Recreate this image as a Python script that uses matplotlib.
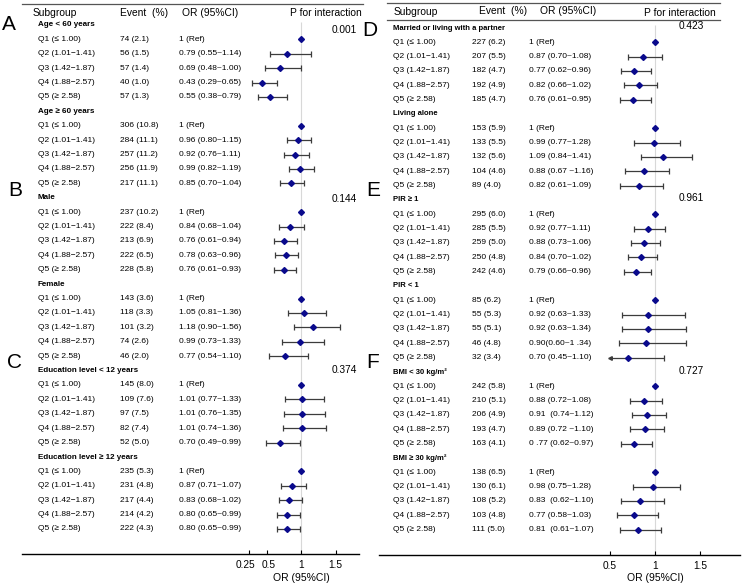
import matplotlib
matplotlib.use("Agg")
import matplotlib.pyplot as plt
import matplotlib.transforms as mtransforms
from matplotlib.lines import Line2D
import numpy as np

plt.rcParams['font.family'] = ['Liberation Sans', 'DejaVu Sans']

# ---------------- DATA ----------------
quintiles = ["Q1 (≤ 1.00)", "Q2 (1.01−1.41)", "Q3 (1.42−1.87)", "Q4 (1.88−2.57)", "Q5 (≥ 2.58)"]

left_groups = ["Age < 60 years", "Age ≥ 60 years", "Male", "Female",
               "Education level < 12 years", "Education level ≥ 12 years"]
left_events = [
    ["74 (2.1)", "56 (1.5)", "57 (1.4)", "40 (1.0)", "57 (1.3)"],
    ["306 (10.8)", "284 (11.1)", "257 (11.2)", "256 (11.9)", "217 (11.1)"],
    ["237 (10.2)", "222 (8.4)", "213 (6.9)", "222 (6.5)", "228 (5.8)"],
    ["143 (3.6)", "118 (3.3)", "101 (3.2)", "74 (2.6)", "46 (2.0)"],
    ["145 (8.0)", "109 (7.6)", "97 (7.5)", "82 (7.4)", "52 (5.0)"],
    ["235 (5.3)", "231 (4.8)", "217 (4.4)", "214 (4.2)", "222 (4.3)"],
]
left_or = [
    [1, 0.79, 0.69, 0.43, 0.55],
    [1, 0.96, 0.92, 0.99, 0.85],
    [1, 0.84, 0.76, 0.78, 0.76],
    [1, 1.05, 1.18, 0.99, 0.77],
    [1, 1.01, 1.01, 1.01, 0.70],
    [1, 0.87, 0.83, 0.80, 0.80],
]
left_lo = [
    [1, 0.55, 0.48, 0.29, 0.38],
    [1, 0.80, 0.76, 0.82, 0.70],
    [1, 0.68, 0.61, 0.63, 0.61],
    [1, 0.81, 0.90, 0.73, 0.54],
    [1, 0.77, 0.76, 0.74, 0.49],
    [1, 0.71, 0.68, 0.65, 0.65],
]
left_hi = [
    [1, 1.14, 1.00, 0.65, 0.79],
    [1, 1.15, 1.11, 1.19, 1.04],
    [1, 1.04, 0.94, 0.96, 0.93],
    [1, 1.36, 1.56, 1.33, 1.10],
    [1, 1.33, 1.35, 1.36, 0.99],
    [1, 1.07, 1.02, 0.99, 0.99],
]
left_or_text = [
    ["1 (Ref)", "0.79 (0.55~1.14)", "0.69 (0.48~1.00)", "0.43 (0.29~0.65)", "0.55 (0.38~0.79)"],
    ["1 (Ref)", "0.96 (0.80~1.15)", "0.92 (0.76~1.11)", "0.99 (0.82~1.19)", "0.85 (0.70~1.04)"],
    ["1 (Ref)", "0.84 (0.68~1.04)", "0.76 (0.61~0.94)", "0.78 (0.63~0.96)", "0.76 (0.61~0.93)"],
    ["1 (Ref)", "1.05 (0.81~1.36)", "1.18 (0.90~1.56)", "0.99 (0.73~1.33)", "0.77 (0.54~1.10)"],
    ["1 (Ref)", "1.01 (0.77~1.33)", "1.01 (0.76~1.35)", "1.01 (0.74~1.36)", "0.70 (0.49~0.99)"],
    ["1 (Ref)", "0.87 (0.71~1.07)", "0.83 (0.68~1.02)", "0.80 (0.65~0.99)", "0.80 (0.65~0.99)"],
]
left_p = ["0.001", "0.144", "0.374"]
left_letters = ["A", "B", "C"]
left_ticks = [0.25, 0.5, 1, 1.5]
left_ticklabels = ["0.25", "0.5", "1", "1.5"]

right_groups = ["Married or living with a partner", "Living alone", "PIR ≥ 1", "PIR < 1",
                "BMI < 30 kg/m²", "BMI ≥ 30 kg/m²"]
right_events = [
    ["227 (6.2)", "207 (5.5)", "182 (4.7)", "192 (4.9)", "185 (4.7)"],
    ["153 (5.9)", "133 (5.5)", "132 (5.6)", "104 (4.6)", "89 (4.0)"],
    ["295 (6.0)", "285 (5.5)", "259 (5.0)", "250 (4.8)", "242 (4.6)"],
    ["85 (6.2)", "55 (5.3)", "55 (5.1)", "46 (4.8)", "32 (3.4)"],
    ["242 (5.8)", "210 (5.1)", "206 (4.9)", "193 (4.7)", "163 (4.1)"],
    ["138 (6.5)", "130 (6.1)", "108 (5.2)", "103 (4.8)", "111 (5.0)"],
]
right_or = [
    [1, 0.87, 0.77, 0.82, 0.76],
    [1, 0.99, 1.09, 0.88, 0.82],
    [1, 0.92, 0.88, 0.84, 0.79],
    [1, 0.92, 0.92, 0.90, 0.70],
    [1, 0.88, 0.91, 0.89, 0.77],
    [1, 0.98, 0.83, 0.77, 0.81],
]
right_lo = [
    [1, 0.70, 0.62, 0.66, 0.61],
    [1, 0.77, 0.84, 0.67, 0.61],
    [1, 0.77, 0.73, 0.70, 0.66],
    [1, 0.63, 0.63, 0.60, 0.45],
    [1, 0.72, 0.74, 0.72, 0.62],
    [1, 0.75, 0.62, 0.58, 0.61],
]
right_hi = [
    [1, 1.08, 0.96, 1.02, 0.95],
    [1, 1.28, 1.41, 1.16, 1.09],
    [1, 1.11, 1.06, 1.02, 0.96],
    [1, 1.33, 1.34, 1.34, 1.10],
    [1, 1.08, 1.12, 1.10, 0.97],
    [1, 1.28, 1.10, 1.03, 1.07],
]
right_or_text = [
    ["1 (Ref)", "0.87 (0.70~1.08)", "0.77 (0.62~0.96)", "0.82 (0.66~1.02)", "0.76 (0.61~0.95)"],
    ["1 (Ref)", "0.99 (0.77~1.28)", "1.09 (0.84~1.41)", "0.88 (0.67 ~1.16)", "0.82 (0.61~1.09)"],
    ["1 (Ref)", "0.92 (0.77~1.11)", "0.88 (0.73~1.06)", "0.84 (0.70~1.02)", "0.79 (0.66~0.96)"],
    ["1 (Ref)", "0.92 (0.63~1.33)", "0.92 (0.63~1.34)", "0.90(0.60~1 .34)", "0.70 (0.45~1.10)"],
    ["1 (Ref)", "0.88 (0.72~1.08)", "0.91  (0.74~1.12)", "0.89 (0.72 ~1.10)", "0 .77 (0.62~0.97)"],
    ["1 (Ref)", "0.98 (0.75~1.28)", "0.83  (0.62~1.10)", "0.77 (0.58~1.03)", "0.81  (0.61~1.07)"],
]
right_p = ["0.423", "0.961", "0.727"]
right_letters = ["D", "E", "F"]
right_ticks = [0.5, 1, 1.5]
right_ticklabels = ["0.5", "1", "1.5"]

headers = ["Subgroup", "Event  (%)", "OR (95%CI)", "P for interaction"]

# ---------------- LAYOUT ----------------
W, H = 743, 587
fig = plt.figure(figsize=(W / 100, H / 100), dpi=100)


def fx(px):
    return px / W


def fy(py):
    return 1 - py / H


MARKER_C = "#0a0a8c"
BAR_C = "#3c3c3c"
TXT = 6.0
HDR = 7.4


def draw_panel(groups, events, ors, los, his, or_texts, pvals, letters, ticks, ticklabels, L):
    x0, x1, one_px, ppu = L["x0"], L["x1"], L["one_px"], L["ppu"]
    row0, dy, axis_y = L["row0"], L["dy"], L["axis_y"]
    ax = fig.add_axes([fx(x0), fy(axis_y), (x1 - x0) / W, axis_y / H])
    ax.set_xlim(1 - (one_px - x0) / ppu, 1 + (x1 - one_px) / ppu)
    ybot = (axis_y - row0) / dy
    ytop = (0 - row0) / dy
    ax.set_ylim(ybot, ytop)
    for s in ["top", "left", "right"]:
        ax.spines[s].set_visible(False)
    ax.spines["bottom"].set_linewidth(1.0)
    ax.set_yticks([])
    ax.set_xticks(ticks)
    ax.set_xticklabels(ticklabels)
    ax.tick_params(axis="x", direction="in", length=3, width=0.8, labelsize=7.3, pad=4)
    ax.patch.set_alpha(0)
    # nudge crowded tick labels apart (0.25 / 0.5)
    for lab, shift in zip(ax.get_xticklabels(), L["tick_shift"]):
        if shift:
            lab.set_transform(lab.get_transform() +
                              mtransforms.ScaledTranslation(shift / 100, 0, fig.dpi_scale_trans))

    tr = mtransforms.blended_transform_factory(fig.transFigure, ax.transData)
    ax.vlines(1, L["ref_start"], ybot, color="#d8d8d8", lw=0.8, zorder=0)

    clip = min(ticks)
    for g, name in enumerate(groups):
        hr = g * 6
        ax.text(fx(L["lab_x"]), hr, name, transform=tr, fontsize=L["bold_fs"],
                fontweight="bold", va="center", ha="left")
        rows = np.arange(hr + 1, hr + 6)
        for i, r in enumerate(rows):
            ax.text(fx(L["lab_x"]), r, quintiles[i], transform=tr, fontsize=TXT, va="center")
            ax.text(fx(L["ev_x"]), r, events[g][i], transform=tr, fontsize=TXT, va="center")
            ax.text(fx(L["or_x"]), r, or_texts[g][i], transform=tr, fontsize=TXT, va="center")
        est = np.array(ors[g], float)
        lo = np.array(los[g], float)
        hi = np.array(his[g], float)
        m = hi > lo
        lo_d = np.maximum(lo, clip)
        clipped = lo < clip
        ax.hlines(rows[m], lo_d[m], hi[m], color=BAR_C, lw=0.9, zorder=2)
        ax.plot(hi[m], rows[m], ls="none", marker="|", ms=4.5, mew=0.9, color=BAR_C, zorder=2)
        mm = m & ~clipped
        ax.plot(lo_d[mm], rows[mm], ls="none", marker="|", ms=4.5, mew=0.9, color=BAR_C, zorder=2)
        mc = m & clipped
        if mc.any():
            ax.plot(lo_d[mc], rows[mc], ls="none", marker="<", ms=2.6, color=BAR_C, zorder=2)
        ax.plot(est, rows, ls="none", marker="D", ms=3.0, color=MARKER_C, mec=MARKER_C, zorder=3)

    # headers
    for h, (hx, hy) in zip(headers, L["hdr_pos"]):
        fig.text(fx(hx), fy(hy), h, fontsize=HDR, va="center", ha="left")
    # p values and letters
    for p, py in zip(pvals, L["p_y"]):
        fig.text(fx(L["p_x"]), fy(py), p, fontsize=7.3, va="center", ha="right")
    for lt, (lx, ly) in zip(letters, L["let_pos"]):
        fig.text(fx(lx), fy(ly), lt, fontsize=15, va="center", ha="center")
    # rule lines
    for (a, b, y) in L["lines"]:
        fig.add_artist(Line2D([fx(a), fx(b)], [fy(y), fy(y)], transform=fig.transFigure,
                              color="#555555", lw=0.9))
    fig.text(fx(one_px), fy(578), "OR (95%CI)", fontsize=7.5, ha="center", va="center")


left_layout = dict(x0=22, x1=359, one_px=301, ppu=69, row0=25, dy=14.4, axis_y=554,
                   lab_x=38, ev_x=120, or_x=179, bold_fs=5.8, ref_start=-0.2,
                   tick_shift=[-4, 2, 0, 0],
                   hdr_pos=[(33, 12.5), (120, 12.5), (182, 12.5), (290, 12.5)],
                   p_x=357, p_y=[30, 199, 370],
                   let_pos=[(9, 25), (15, 191), (15, 363)],
                   lines=[(22, 363, 4)])
right_layout = dict(x0=379, x1=740, one_px=655, ppu=90, row0=28, dy=14.33, axis_y=555,
                    lab_x=393, ev_x=472, or_x=529, bold_fs=5.5, ref_start=-0.2,
                    tick_shift=[0, 0, 0],
                    hdr_pos=[(394, 12), (479, 11), (540, 11), (644, 13.5)],
                    p_x=704, p_y=[26, 198, 371],
                    let_pos=[(370, 30), (373, 190), (373, 362)],
                    lines=[(387, 720, 3), (387, 720, 19.5)])

draw_panel(left_groups, left_events, left_or, left_lo, left_hi, left_or_text, left_p,
           left_letters, left_ticks, left_ticklabels, left_layout)
draw_panel(right_groups, right_events, right_or, right_lo, right_hi, right_or_text, right_p,
           right_letters, right_ticks, right_ticklabels, right_layout)

fig.savefig("out.png", dpi=100)
